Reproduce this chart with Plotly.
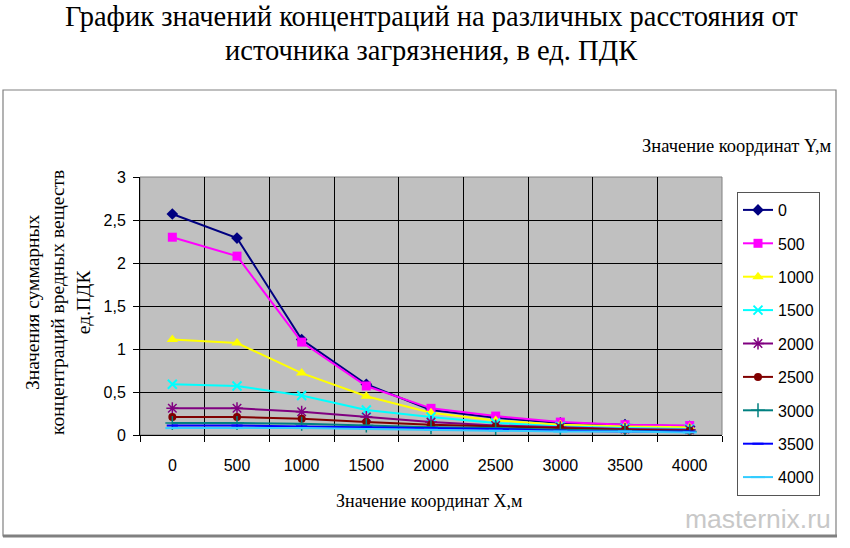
import plotly.graph_objects as go

# ---- data ----
x_coords = [0, 500, 1000, 1500, 2000, 2500, 3000, 3500, 4000]
x_labels = ["0", "500", "1000", "1500", "2000", "2500", "3000", "3500", "4000"]
series_names = ["0", "500", "1000", "1500", "2000", "2500", "3000", "3500", "4000"]
y_0    = [2.57, 2.29, 1.11, 0.59, 0.29, 0.20, 0.14, 0.12, 0.10]
y_500  = [2.30, 2.08, 1.08, 0.57, 0.31, 0.22, 0.15, 0.12, 0.11]
y_1000 = [1.11, 1.07, 0.72, 0.45, 0.26, 0.17, 0.12, 0.10, 0.09]
y_1500 = [0.59, 0.57, 0.46, 0.29, 0.21, 0.14, 0.10, 0.08, 0.07]
y_2000 = [0.31, 0.31, 0.27, 0.21, 0.15, 0.11, 0.09, 0.07, 0.06]
y_2500 = [0.21, 0.21, 0.19, 0.15, 0.12, 0.10, 0.08, 0.06, 0.05]
y_3000 = [0.14, 0.14, 0.13, 0.11, 0.09, 0.08, 0.06, 0.05, 0.04]
y_3500 = [0.11, 0.11, 0.10, 0.09, 0.08, 0.07, 0.05, 0.04, 0.04]
y_4000 = [0.08, 0.08, 0.08, 0.07, 0.06, 0.05, 0.04, 0.04, 0.03]
y_ticks = [0, 0.5, 1, 1.5, 2, 2.5, 3]

all_series = [y_0, y_500, y_1000, y_1500, y_2000, y_2500, y_3000, y_3500, y_4000]

styles = [
    dict(color="#000080", symbol="diamond", size=9, lw=0),
    dict(color="#FF00FF", symbol="square", size=9, lw=0),
    dict(color="#FFFF00", symbol="triangle-up", size=10, lw=0),
    dict(color="#00FFFF", symbol="x-thin-open", size=9, lw=2),
    dict(color="#800080", symbol="asterisk-open", size=10, lw=1.5),
    dict(color="#800000", symbol="circle", size=8, lw=0),
    dict(color="#008080", symbol="cross-thin-open", size=10, lw=1.5),
    dict(color="#0000FF", symbol="line-ew-open", size=8, lw=2),
    dict(color="#33CCFF", symbol="line-ew-open", size=10, lw=2),
]

W, H = 850, 548
L, R, T, B = 140, 722, 177, 435


def px2x(px):
    return (px - L) / (R - L)


def px2y(py):
    return (B - py) / (B - T)


fig = go.Figure()
for name, ys, st in zip(series_names, all_series, styles):
    fig.add_trace(go.Scatter(
        x=x_coords, y=ys, name=name, mode="lines+markers",
        legendgroup=name,
        line=dict(color=st["color"], width=2),
        marker=dict(symbol=st["symbol"], size=st["size"], color=st["color"],
                    line=dict(color=st["color"], width=st["lw"])),
    ))

serif = "Liberation Serif, Times New Roman, serif"
sans = "Liberation Sans, Arial, sans-serif"

fig.update_layout(
    width=W, height=H,
    margin=dict(l=L, r=W - R, t=T, b=H - B),
    paper_bgcolor="white",
    plot_bgcolor="#C0C0C0",
    separators=", ",
    showlegend=True,
    legend=dict(
        x=px2x(737), y=px2y(192), xanchor="left", yanchor="top",
        bgcolor="white", bordercolor="#555555", borderwidth=1,
        font=dict(family=sans, size=16, color="black"),
        traceorder="grouped", tracegroupgap=9.6,
        itemsizing="trace", maxheight=420,
    ),
    xaxis=dict(
        range=[-250, 4250],
        tickmode="array", tickvals=x_coords, ticktext=x_labels,
        ticks="", showgrid=False, zeroline=False,
        showline=True, linecolor="black", linewidth=1,
        tickfont=dict(family=sans, size=16, color="black"),
        ticklabelstandoff=16,
        minor=dict(tick0=-250, dtick=500, showgrid=True, gridcolor="black",
                   gridwidth=1, ticks="outside", ticklen=6, tickcolor="black"),
    ),
    yaxis=dict(
        range=[0, 3], tickmode="array", tickvals=y_ticks,
        showgrid=True, gridcolor="black", gridwidth=1, zeroline=False,
        showline=True, linecolor="black", linewidth=1,
        ticks="outside", ticklen=6, tickcolor="black",
        tickfont=dict(family=sans, size=16, color="black"),
        ticklabelstandoff=4,
    ),
)

annotations = [
    dict(text="График значений концентраций на различных расстояния от",
         x=px2x(431), y=px2y(16), font=dict(family=serif, size=28.5, color="black")),
    dict(text="источника загрязнения, в ед. ПДК",
         x=px2x(431), y=px2y(50), font=dict(family=serif, size=28.5, color="black")),
    dict(text="Значения суммарных<br>концентраций вредных веществ<br>ед.ПДК",
         x=px2x(58), y=px2y(303), textangle=-90,
         font=dict(family=serif, size=19.5, color="black")),
    dict(text="Значение координат X,м",
         x=px2x(429), y=px2y(501), font=dict(family=serif, size=18, color="black")),
    dict(text="Значение координат Y,м",
         x=px2x(737), y=px2y(146), font=dict(family=serif, size=18.5, color="black")),
    dict(text="masternix.ru",
         x=px2x(833), y=px2y(519), xanchor="right",
         font=dict(family=sans, size=26.5, color="#C8C8C8")),
]
for a in annotations:
    a.setdefault("xanchor", "center")
    a.update(xref="paper", yref="paper", yanchor="middle", showarrow=False)
fig.update_layout(annotations=annotations)

fig.add_shape(type="rect", xref="paper", yref="paper",
              x0=px2x(3), x1=px2x(836), y0=px2y(536), y1=px2y(90),
              line=dict(color="#808080", width=1.2), layer="below")
fig.add_shape(type="line", xref="paper", yref="paper",
              x0=px2x(3), x1=px2x(837), y0=px2y(536), y1=px2y(536),
              line=dict(color="#808080", width=3))
fig.add_shape(type="rect", xref="paper", yref="paper",
              x0=0, x1=1, y0=0, y1=1,
              line=dict(color="#808080", width=1), layer="below")

fig.write_html("out.html")
